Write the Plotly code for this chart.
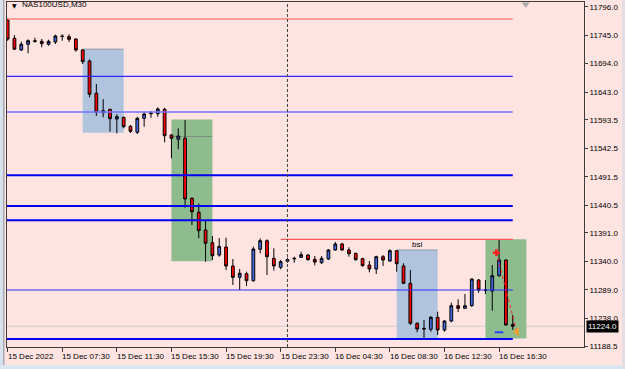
import plotly.graph_objects as go

# ---------------- data ----------------
opens = [11772, 11739.5, 11718.5, 11728.7, 11735, 11734, 11728.7, 11732.8, 11742.5, 11742.3,
         11738.2, 11718.5, 11698.8, 11641, 11606.3, 11612.3, 11595, 11598, 11581.9, 11571.2,
         11596.2, 11604.5, 11604.5, 11612.3, 11566.3, 11558.7, 11560.4, 11453, 11428, 11396.3,
         11373.6, 11351.5, 11365.9, 11331.9, 11311.6, 11318, 11305.5, 11361.8, 11377.2, 11345.6,
         11329.5, 11340.4, 11344.5, 11347.4, 11351.5, 11343.8, 11337.8, 11344.4, 11360.5, 11371.2,
         11360.5, 11354.6, 11345, 11333.6, 11326.5, 11348.5, 11340.8, 11359.3, 11331.9, 11300.9,
         11229.3, 11220.3, 11218.6, 11240, 11217.3, 11233.4, 11260.8, 11256.1, 11260.8, 11306.8,
         11289, 11287.1, 11314.5, 11342.6, 11227]
highs = [11774, 11745, 11733.4, 11737.6, 11740.5, 11738.2, 11736.9, 11745.9, 11746.6, 11746.6,
         11739.4, 11720.3, 11701.8, 11657.6, 11630.3, 11612.5, 11603.4, 11599.1, 11584.3, 11599.1,
         11608.1, 11609.3, 11615.9, 11615, 11568.1, 11578.3, 11593.2, 11454.8, 11444, 11412.4,
         11385.6, 11382, 11382.5, 11344.4, 11326.5, 11321.7, 11366.4, 11381.4, 11379.6, 11363.5,
         11342.6, 11346.7, 11348.5, 11357.5, 11353.3, 11349.8, 11349.8, 11361.8, 11374.8, 11373.6,
         11365.3, 11355.7, 11346.7, 11340.8, 11350.3, 11351.5, 11361.8, 11360.5, 11336.7, 11324.7,
         11231.1, 11235.2, 11242.4, 11250.1, 11235.2, 11266.2, 11272.3, 11281.7, 11309.8, 11308.6,
         11306.8, 11333.6, 11378.4, 11343.9, 11244.2]
lows = [11735, 11718.5, 11716.7, 11712.6, 11731.6, 11723.3, 11726.2, 11729.2, 11735.1, 11732.8,
        11715.5, 11693.4, 11633.8, 11600.4, 11598, 11572.3, 11569.4, 11578.3, 11570, 11568.1,
        11581.2, 11597.3, 11599.1, 11553.3, 11524.6, 11540.8, 11436.2, 11405.3, 11381.5, 11339.6,
        11342.6, 11348.5, 11324.7, 11297.8, 11288.9, 11296, 11303.8, 11354.6, 11315.8, 11323.5,
        11325.9, 11337.8, 11337.8, 11346.2, 11341.4, 11333, 11335.4, 11342.6, 11359.3, 11359.3,
        11348.5, 11341.4, 11330.6, 11320.6, 11317.5, 11331.9, 11339.6, 11321.7, 11299.6, 11226.3,
        11213.2, 11201.2, 11214.3, 11208.4, 11214.3, 11231.1, 11249.5, 11255, 11259, 11284,
        11281.7, 11251.9, 11312.7, 11225, 11217.3]
closes = [11738, 11720, 11728.7, 11735.1, 11734, 11729.8, 11734, 11743.6, 11743.2, 11737.6,
          11718.5, 11697.6, 11639.2, 11607, 11609.9, 11595.5, 11599.1, 11581.2, 11573, 11596.2,
          11603.9, 11605.8, 11612.9, 11565.1, 11560.4, 11564.6, 11451.8, 11429, 11395, 11372.5,
          11350.3, 11367, 11331.9, 11311.6, 11318.8, 11305.5, 11362.3, 11377.2, 11348.5, 11331.9,
          11339.6, 11343.2, 11345.6, 11352, 11343.2, 11339, 11345.6, 11360.5, 11371.2, 11360.5,
          11353.9, 11343.2, 11332.4, 11326.5, 11348.5, 11342.6, 11359.3, 11336, 11300.9, 11229.3,
          11219.1, 11219.2, 11240, 11217.3, 11233.4, 11260.8, 11256.1, 11260.8, 11308.6, 11288.9,
          11288.2, 11314.5, 11342.6, 11226.3, 11224]
bars = list(range(len(opens)))

x_tick_bars = [0, 8, 16, 24, 32, 40, 48, 56, 64, 72]
x_tick_labels = ["15 Dec 2022", "15 Dec 07:30", "15 Dec 11:30", "15 Dec 15:30", "15 Dec 19:30",
                 "15 Dec 23:30", "16 Dec 04:30", "16 Dec 08:30", "16 Dec 12:30", "16 Dec 16:30"]
y_tick_values = [11796.0, 11745.0, 11694.0, 11643.0, 11593.5, 11542.5, 11491.5, 11440.5,
                 11391.0, 11340.0, 11289.0, 11238.0, 11188.5]
current_price = 11224.0

# horizontal levels: (price, start bar, end bar)
red_levels = [(11774.0, None, 74), (11379.6, 40, 74)]
thin_blue_levels = [(11671.4, None, 74), (11288.9, None, 74)]
light_blue_levels = [(11607.5, None, 74)]
thick_blue_levels = [(11494.2, None, 74), (11439.3, None, 74), (11413.6, None, 74), (11201.2, None, 74)]
# zones: (bar0, bar1, top, bottom)
blue_zones = [(11, 17, 11720.0, 11570.5), (57, 63, 11360.5, 11201.0)]
green_zones = [(24, 30, 11594.0, 11340.5), (70, 76, 11379.6, 11202.0)]
separator_bar = 41
bsl_label = (60, 11379.6, "bsl")
trade_entry = (71.6, 11355.7)
trade_exit = (74.6, 11214.3)
trade_mark = (72.0, 11213.2)

X_RANGE = [-0.09, 84.44]
Y_RANGE = [11186.9, 11804.4]

fig = go.Figure()

shapes = []
for b0, b1, top, bot in blue_zones:
    shapes.append(dict(type="rect", xref="x", yref="y", x0=b0, x1=b1, y0=bot, y1=top,
                       fillcolor="#B0C4DE", line=dict(width=0), layer="below"))
    shapes.append(dict(type="line", xref="x", yref="y", x0=b0, x1=b1, y0=top, y1=top,
                       line=dict(color="#8C98A8", width=1), layer="below"))
for b0, b1, top, bot in green_zones:
    shapes.append(dict(type="rect", xref="x", yref="y", x0=b0, x1=b1, y0=bot, y1=top,
                       fillcolor="#8FBC8F", line=dict(width=0), layer="below"))
# inner gray line of first green zone (previous close level)
shapes.append(dict(type="line", xref="x", yref="y", x0=green_zones[0][0], x1=green_zones[0][1],
                   y0=closes[23] - 1.5, y1=closes[23] - 1.5, line=dict(color="#7F8F7F", width=1), layer="below"))

def hl(level, color, width):
    p, s, e = level
    return dict(type="line", xref="x", yref="y", x0=(X_RANGE[0] if s is None else s), x1=e,
                y0=p, y1=p, line=dict(color=color, width=width), layer="above")

# bid line
shapes.append(dict(type="line", xref="paper", yref="y", x0=0, x1=1, y0=current_price, y1=current_price,
                   line=dict(color="#D0CCCC", width=1), layer="below"))
for lv in red_levels:
    shapes.append(hl(lv, "#FF5A5A", 1.2))
for lv in thin_blue_levels:
    shapes.append(hl(lv, "#2A2AFF", 1.2))
for lv in light_blue_levels:
    shapes.append(hl(lv, "#7474FF", 1.6))
for lv in thick_blue_levels:
    shapes.append(hl(lv, "#0000F0", 2))
# vertical day separator
shapes.append(dict(type="line", xref="x", yref="paper", x0=separator_bar, x1=separator_bar, y0=0, y1=1,
                   line=dict(color="#404040", width=1, dash="3px,2px"), layer="above"))
# window borders
shapes.append(dict(type="rect", xref="paper", yref="paper", x0=-0.02, x1=-0.0069, y0=-0.1, y1=1.01,
                   fillcolor="#D6E2EE", line=dict(width=0), layer="below"))
shapes.append(dict(type="rect", xref="paper", yref="paper", x0=-0.0069, x1=-0.0043, y0=-0.1, y1=1.01,
                   fillcolor="#A6A9B2", line=dict(width=0), layer="below"))
shapes.append(dict(type="rect", xref="paper", yref="paper", x0=-0.02, x1=1.1, y0=-0.07, y1=-0.0522,
                   fillcolor="#DCE6F0", line=dict(width=0), layer="below"))
shapes.append(dict(type="rect", xref="paper", yref="paper", x0=1.0659, x1=1.1, y0=-0.06, y1=1.01,
                   fillcolor="#E4DEE4", line=dict(width=0), layer="below"))

fig.add_trace(go.Candlestick(
    x=bars, open=opens, high=highs, low=lows, close=closes,
    increasing=dict(line=dict(color="black", width=1), fillcolor="#4169E1"),
    decreasing=dict(line=dict(color="black", width=1), fillcolor="#FF0000"),
    whiskerwidth=0, showlegend=False, hoverinfo="skip"))

# trade markers
fig.add_trace(go.Scatter(x=[trade_entry[0], trade_exit[0]], y=[trade_entry[1], trade_exit[1]],
                         mode="lines", line=dict(color="#FF2020", width=1, dash="dot"),
                         showlegend=False, hoverinfo="skip"))
fig.add_trace(go.Scatter(x=[trade_entry[0]], y=[trade_entry[1]], mode="markers",
                         marker=dict(symbol="cross", size=6, color="#FF2020"),
                         showlegend=False, hoverinfo="skip"))
fig.add_trace(go.Scatter(x=[trade_exit[0]], y=[trade_exit[1]], mode="markers",
                         marker=dict(symbol="triangle-left", size=8, color="#F0A030"),
                         showlegend=False, hoverinfo="skip"))
fig.add_trace(go.Scatter(x=[trade_mark[0]], y=[trade_mark[1]], mode="markers",
                         marker=dict(symbol="line-ew", size=6, line=dict(color="#2040FF", width=2)),
                         showlegend=False, hoverinfo="skip"))
# chart shift marker
fig.add_trace(go.Scatter(x=[75.9], y=[11800.5], mode="markers",
                         marker=dict(symbol="triangle-down", size=7, color="#A8A8A8"),
                         showlegend=False, hoverinfo="skip", cliponaxis=False))

annotations = []
for b, t in zip(x_tick_bars, x_tick_labels):
    annotations.append(dict(x=b, xref="x", y=-0.009, yref="paper", text=t, showarrow=False,
                            xanchor="left", yanchor="top", xshift=-2,
                            font=dict(family="Liberation Sans", size=8, color="black")))
annotations.append(dict(x=bsl_label[0], xref="x", y=bsl_label[1], yref="y", text=bsl_label[2],
                        showarrow=False, xanchor="center", yanchor="top", yshift=1,
                        font=dict(family="Liberation Sans", size=8, color="black")))
annotations.append(dict(x=1, xref="paper", y=current_price, yref="y", text="%.1f" % current_price,
                        showarrow=False, xanchor="left", yanchor="middle", xshift=2,
                        bgcolor="black", borderpad=1,
                        font=dict(family="Liberation Sans", size=8, color="white")))
annotations.append(dict(x=0.005, xref="paper", y=0.991, yref="paper", text="▼",
                        showarrow=False, xanchor="left", yanchor="middle",
                        font=dict(family="DejaVu Sans", size=6, color="black")))
annotations.append(dict(x=0.022, xref="paper", y=0.993, yref="paper", text="NAS100USD,M30",
                        showarrow=False, xanchor="left", yanchor="middle",
                        font=dict(family="Liberation Sans", size=8, color="black")))

fig.update_layout(
    width=625, height=369,
    margin=dict(l=7, r=41, t=2, b=22),
    paper_bgcolor="#FFE4E1", plot_bgcolor="#FFE4E1",
    boxgap=0.42,
    shapes=shapes, annotations=annotations,
    xaxis=dict(range=X_RANGE, rangeslider=dict(visible=False), showgrid=False, zeroline=False,
               showline=True, mirror=True, linecolor="#3C3C3C", linewidth=1,
               tickmode="array", tickvals=x_tick_bars, ticks="outside", ticklen=4,
               tickcolor="#3C3C3C", showticklabels=False),
    yaxis=dict(range=Y_RANGE, side="right", showgrid=False, zeroline=False,
               showline=True, mirror=True, linecolor="#3C3C3C", linewidth=1,
               tickmode="array", tickvals=y_tick_values, ticktext=["%.1f" % v for v in y_tick_values],
               ticks="outside", ticklen=3, tickcolor="#3C3C3C",
               tickfont=dict(family="Liberation Sans", size=8, color="black")),
    showlegend=False,
)

fig.write_html("out.html")
